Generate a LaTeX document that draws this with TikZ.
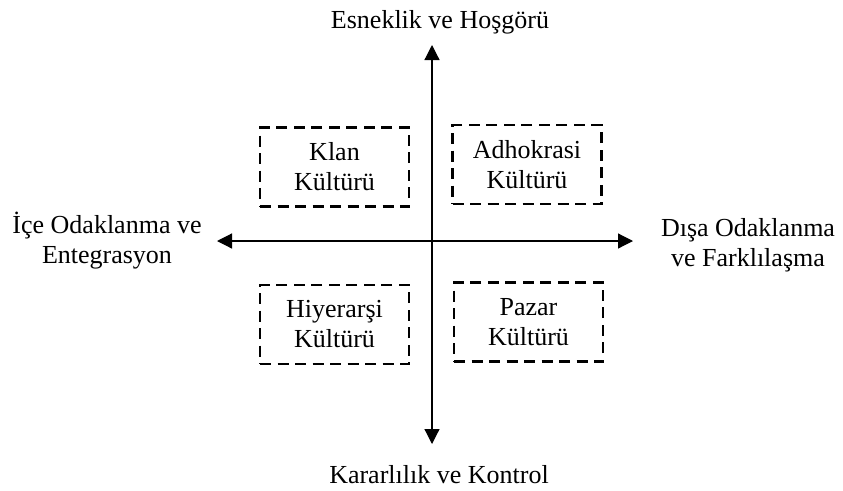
\documentclass[tikz,border=0pt]{standalone}
\usepackage{fontspec}
\setmainfont{Liberation Serif}
\usetikzlibrary{arrows.meta}
\begin{document}
\begin{tikzpicture}[x=1pt,y=-1pt,
  lbl/.style={font=\fontsize{26}{30}\selectfont, align=center, inner sep=0pt},
  culture/.style={draw, dash pattern=on 11pt off 6.5pt, line width=2.2pt, minimum width=149pt, minimum height=79pt, align=center, inner sep=0pt, font=\fontsize{26}{30}\selectfont},
  axis/.style={line width=1.2pt, {Triangle[length=15pt,width=15pt]}-{Triangle[length=15pt,width=15pt]}}
]
\useasboundingbox (0,0) rectangle (843,490);
\coordinate (T) at (432,45);
\coordinate (B) at (432,444);
\coordinate (L) at (217,241);
\coordinate (R) at (633,241);
\draw[axis] (B) -- (T);
\draw[axis] (L) -- (R);
\node[culture] (klan) at (334.5,167) {Klan\\Kültürü};
\node[culture] (adho) at (527,164.5) {Adhokrasi\\Kültürü};
\node[culture] (hiy) at (334.5,324.5) {Hiyerarşi\\Kültürü};
\node[culture] (paz) at (528.5,322) {Pazar\\Kültürü};
\node[lbl, anchor=base] (top) at (440,28) {Esneklik ve Hoşgörü};
\node[lbl, anchor=base] (bot) at (439,483) {Kararlılık ve Kontrol};
\node[lbl] (left) at (107,241) {İçe Odaklanma ve\\Entegrasyon};
\node[lbl] (right) at (748,245) {Dışa Odaklanma\\ve Farklılaşma};
\end{tikzpicture}
\end{document}
